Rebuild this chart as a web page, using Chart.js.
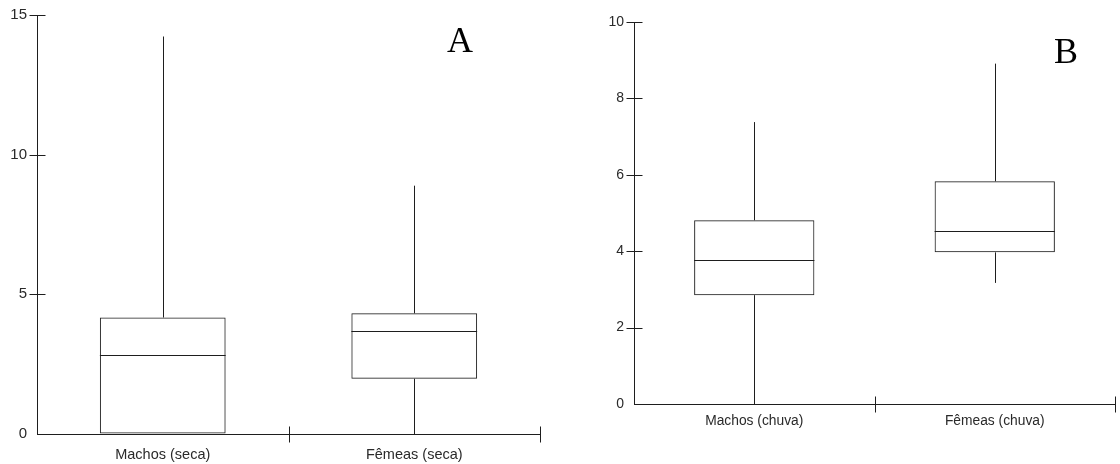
<!DOCTYPE html>
<html>
<head>
<meta charset="utf-8">
<script src="https://cdn.jsdelivr.net/npm/chart.js@4"></script>
<style>
  body { margin: 0; background: #fff; }
  .panel { position: absolute; top: 0; }
</style>
</head>
<body>
<div class="panel" style="left:0"><canvas id="chartA" width="560" height="464"></canvas></div>
<div class="panel" style="left:560px"><canvas id="chartB" width="560" height="464"></canvas></div>
<script>
// panel A (dry season)
const categoriesA = ['Machos (seca)', 'Fêmeas (seca)'];
const minA = [0, 0];
const q1A = [0, 1.98];
const medianA = [2.84, 3.67];
const q3A = [4.17, 4.32];
const maxA = [14.23, 8.89];
const yTicksA = { min: 0, max: 15, step: 5 };

// panel B (rainy season)
const categoriesB = ['Machos (chuva)', 'Fêmeas (chuva)'];
const minB = [0, 3.17];
const q1B = [2.85, 3.97];
const medianB = [3.77, 4.52];
const q3B = [4.81, 5.83];
const maxB = [7.38, 8.91];
const yTicksB = { min: 0, max: 10, step: 2 };

const lineColor = '#1e1e1e';
const textColor = '#2a2a2a';
const sansFont = "'Liberation Sans', Arial, sans-serif";

// whiskers, medians, crossing tick marks and the panel letter
const boxExtras = (stats, letter, letterX, letterY) => ({
    id: 'boxExtras',
    afterDatasetsDraw(chart) {
        const { ctx, scales: { x, y } } = chart;
        const meta = chart.getDatasetMeta(0);
        ctx.save();
        ctx.strokeStyle = lineColor;
        ctx.lineWidth = 1;
        ctx.beginPath();
        meta.data.forEach((bar, i) => {
            const cx = Math.round(bar.x) + 0.5;
            const half = bar.width / 2;
            ctx.moveTo(cx, y.getPixelForValue(stats.min[i]));
            ctx.lineTo(cx, y.getPixelForValue(stats.q1[i]));
            ctx.moveTo(cx, y.getPixelForValue(stats.q3[i]));
            ctx.lineTo(cx, y.getPixelForValue(stats.max[i]));
            const my = Math.round(y.getPixelForValue(stats.median[i])) + 0.5;
            ctx.moveTo(bar.x - half, my);
            ctx.lineTo(bar.x + half, my);
        });
        // y ticks cross the axis line
        const ax = Math.round(x.left) + 0.5;
        y.ticks.forEach((t, i) => {
            if (t.value === y.min) return;
            const ty = Math.round(y.getPixelForTick(i)) + 0.5;
            ctx.moveTo(ax - 8, ty);
            ctx.lineTo(ax + 8, ty);
        });
        // x ticks at category boundaries
        const ay = Math.round(y.bottom) + 0.5;
        const step = x.getPixelForValue(1) - x.getPixelForValue(0);
        x.ticks.forEach((t, i) => {
            const tx = Math.round(x.getPixelForValue(i) + step / 2) + 0.5;
            ctx.moveTo(tx, ay - 8);
            ctx.lineTo(tx, ay + 8);
        });
        ctx.stroke();
        ctx.fillStyle = '#000';
        ctx.font = "36px 'Liberation Serif', 'Times New Roman', serif";
        ctx.textAlign = 'center';
        ctx.textBaseline = 'alphabetic';
        ctx.fillText(letter, letterX, letterY);
        ctx.restore();
    }
});

const boxChart = (id, labels, stats, yTicks, layout, letter, letterX, letterY) => {
    new Chart(document.getElementById(id), {
        type: 'bar',
        data: {
            labels: labels,
            datasets: [{
                data: labels.map((_, i) => [stats.q1[i], stats.q3[i]]),
                backgroundColor: 'rgba(255,255,255,0)',
                borderColor: lineColor,
                borderWidth: 1,
                borderSkipped: false,
                barPercentage: 0.5,
                categoryPercentage: 1
            }]
        },
        options: {
            responsive: false,
            animation: false,
            events: [],
            layout: { padding: { left: 0, top: layout.top, right: layout.right, bottom: 0 } },
            plugins: { legend: { display: false }, tooltip: { enabled: false } },
            scales: {
                x: {
                    offset: true,
                    grid: { display: true, drawOnChartArea: false, drawTicks: false, offset: true },
                    border: { display: true, color: lineColor, width: 1 },
                    ticks: { color: textColor, padding: layout.xPad, maxRotation: 0, autoSkip: false,
                             font: { family: sansFont, size: layout.xFont } },
                    afterFit: (scale) => { scale.height = layout.xHeight; }
                },
                y: {
                    min: yTicks.min,
                    max: yTicks.max,
                    grid: { display: true, drawOnChartArea: false, drawTicks: false },
                    border: { display: true, color: lineColor, width: 1 },
                    ticks: { stepSize: yTicks.step, color: textColor, padding: 10,
                             font: { family: sansFont, size: layout.yFont } },
                    afterFit: (scale) => {
                        scale.width = layout.yWidth;
                        scale.paddingTop = 0;
                        scale.paddingBottom = 0;
                    }
                }
            }
        },
        plugins: [boxExtras(stats, letter, letterX, letterY)]
    });
};

boxChart('chartA', categoriesA,
    { min: minA, q1: q1A, median: medianA, q3: q3A, max: maxA }, yTicksA,
    { top: 15, right: 20, xHeight: 30, yWidth: 37, xPad: 12, xFont: 14.5, yFont: 15 },
    'A', 460, 52);

boxChart('chartB', categoriesB,
    { min: minB, q1: q1B, median: medianB, q3: q3B, max: maxB }, yTicksB,
    { top: 22, right: 5, xHeight: 60, yWidth: 74, xPad: 9, xFont: 13.8, yFont: 14 },
    'B', 506, 63);
</script>
</body>
</html>
